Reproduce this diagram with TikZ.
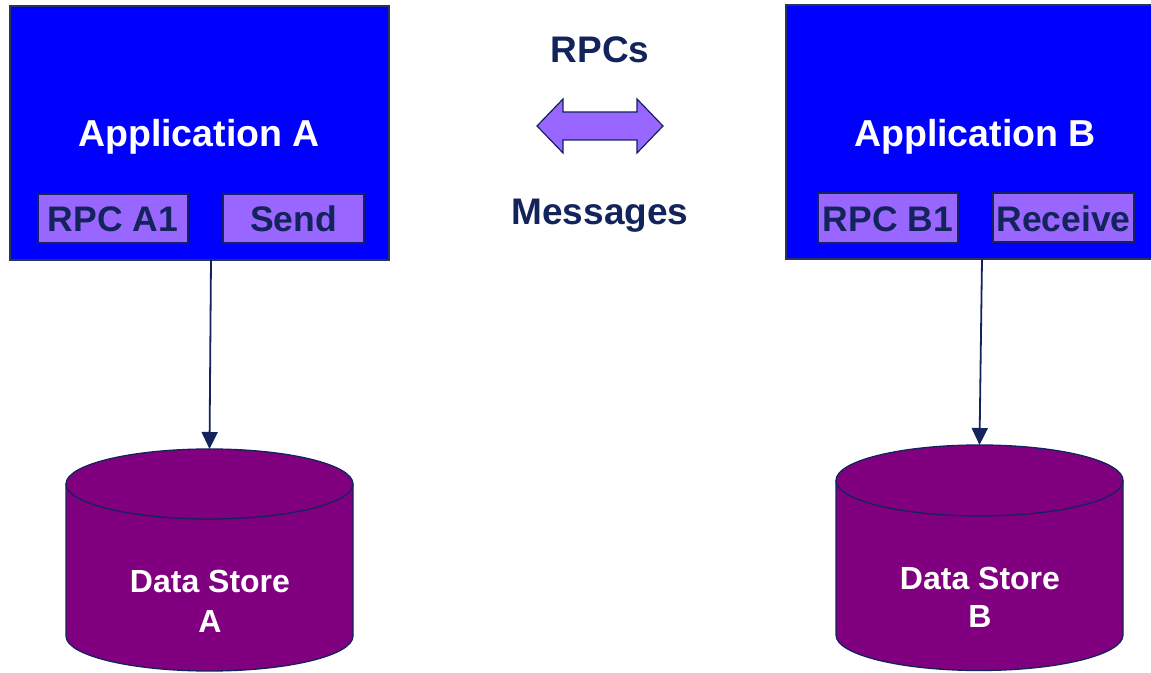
\documentclass[tikz,border=0pt]{standalone}
\usepackage{fontspec}
\setmainfont{Liberation Sans}
\usetikzlibrary{arrows.meta}

\definecolor{appblue}{HTML}{0000FF}
\definecolor{navy}{HTML}{13235B}
\definecolor{edge}{HTML}{26345F}
\definecolor{lilac}{HTML}{9966FF}
\definecolor{storepurple}{HTML}{800080}

\tikzset{
  appbox/.style={draw=edge, line width=1.3pt, fill=appblue, inner sep=0pt, outer sep=0pt, anchor=north west},
  apptext/.style={text=white, font=\bfseries\fontsize{37.5}{42}\selectfont, anchor=base, inner sep=0pt},
  rpcbox/.style={draw=navy, line width=1.5pt, fill=lilac, inner sep=0pt, outer sep=0pt, anchor=north west},
  rpctext/.style={text=navy, font=\bfseries\fontsize{35.5}{40}\selectfont, anchor=base, inner sep=0pt},
  midtext/.style={text=navy, font=\bfseries\fontsize{37}{42}\selectfont, anchor=base, inner sep=0pt},
  storetext/.style={text=white, font=\bfseries\fontsize{32}{36}\selectfont, anchor=base, inner sep=0pt},
  storefill/.style={fill=storepurple},
  storeedge/.style={draw=navy, line width=1.3pt},
  link/.style={draw=navy, line width=1.8pt, -{Triangle[length=17pt,width=16pt]}},
}

\begin{document}
\begin{tikzpicture}[x=1pt,y=1pt]
\useasboundingbox (0,0) rectangle (1151,672);

% application A
\node[appbox, minimum width=379pt, minimum height=254pt] (appA) at (10,666) {};
\node[apptext] (appAlbl) at (199,525) {Application A};
\node[rpcbox, minimum width=150pt, minimum height=49pt] (rpcA) at (38,478) {};
\node[rpctext] (rpcAlbl) at (113,440) {RPC A1};
\node[rpcbox, minimum width=141pt, minimum height=49pt] (send) at (223,478) {};
\node[rpctext] (sendlbl) at (293.5,440) {Send};

% application B (runs past the right edge)
\node[appbox, minimum width=390pt, minimum height=254pt] (appB) at (786,667) {};
\node[apptext] (appBlbl) at (975,525) {Application B};
\node[rpcbox, minimum width=140pt, minimum height=50pt] (rpcB) at (818,479) {};
\node[rpctext] (rpcBlbl) at (888,440) {RPC B1};
\node[rpcbox, minimum width=141pt, minimum height=49pt] (recv) at (993,479) {};
\node[rpctext] (recvlbl) at (1063.5,440) {Receive};

% middle labels and the two-way arrow
\node[midtext] (rpcs) at (600,609) {RPCs};
\node[midtext] (msgs) at (600,447) {Messages};
\filldraw[fill=lilac, draw=navy, line width=1.2pt, line join=miter]
  (537,546) -- (563,573) -- (563,560) -- (637,560) -- (637,573) -- (663,546)
  -- (637,519) -- (637,532) -- (563,532) -- (563,519) -- cycle;

% data store A
\fill[storefill] (66,188) -- (66,36) arc[start angle=180, end angle=360, x radius=143.5pt, y radius=35pt]
  -- (353,188) -- cycle;
\draw[storeedge] (66,188) -- (66,36) arc[start angle=180, end angle=360, x radius=143.5pt, y radius=35pt]
  -- (353,188);
\filldraw[storefill, storeedge] (209.5,188) ellipse[x radius=143.5pt, y radius=35pt];
\coordinate (dsAtop) at (209.5,223);
\node[storetext] (dsAl1) at (210,79) {Data Store};
\node[storetext] (dsAl2) at (210,40) {A};

% data store B
\fill[storefill] (836,191.5) -- (836,37) arc[start angle=180, end angle=360, x radius=143.5pt, y radius=35.5pt]
  -- (1123,191.5) -- cycle;
\draw[storeedge] (836,191.5) -- (836,37) arc[start angle=180, end angle=360, x radius=143.5pt, y radius=35.5pt]
  -- (1123,191.5);
\filldraw[storefill, storeedge] (979.5,191.5) ellipse[x radius=143.5pt, y radius=35.5pt];
\coordinate (dsBtop) at (979.5,227);
\node[storetext] (dsBl1) at (980,82) {Data Store};
\node[storetext] (dsBl2) at (980,45) {B};

% connectors from each application down to its store
\coordinate (appAout) at (211,412);
\coordinate (appBout) at (982,413);
\draw[link] (appAout) -- (dsAtop);
\draw[link] (appBout) -- (dsBtop);
\end{tikzpicture}
\end{document}
